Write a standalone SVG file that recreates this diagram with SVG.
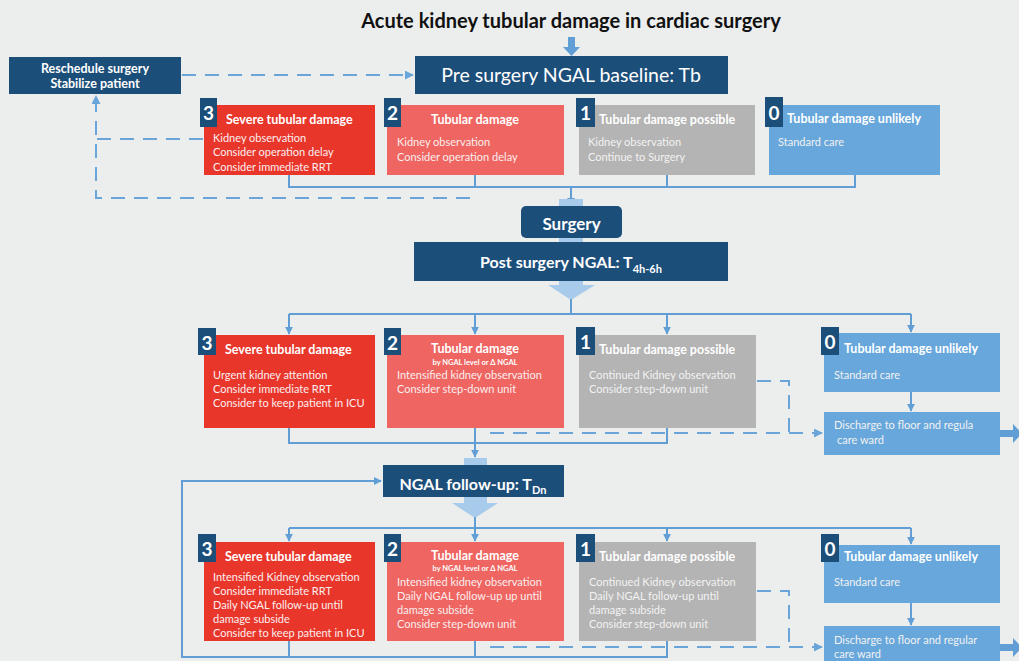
<svg xmlns="http://www.w3.org/2000/svg" width="1019" height="661" viewBox="0 0 1019 661">
<defs>
<style>
text{font-family:Lato,"Open Sans","Liberation Sans",sans-serif;fill:#ffffff}
.ttl{font-size:20px;font-weight:bold;fill:#111111}
.hdr{fill:#1c4e7a}
.hdrt{font-size:19.5px;text-anchor:middle}
.hdrs{font-size:16px;text-anchor:middle}
.badge{fill:#1c4e7a}
.bn{font-size:19px;font-weight:bold;text-anchor:middle}
.bt{font-size:12.5px;font-weight:bold}
.bd{font-size:11px;fill:#fbeeee}
.bdg{font-size:11px;fill:#f2f2f2}
.sub{font-size:7.5px;font-weight:bold;text-anchor:middle}
.r3{fill:#e8362b}
.r2{fill:#ee6561}
.r1{fill:#b4b4b4}
.r0{fill:#67a7dc}
.c{fill:none;stroke:#619ed6;stroke-width:2}
.d{fill:none;stroke:#6aa5d9;stroke-width:2;stroke-dasharray:14 9}
.blk{fill:#a9cbeb}
.ar{fill:#619ed6}
</style>
<marker id="ah" viewBox="0 0 10 10" refX="9" refY="5" markerWidth="8" markerHeight="8" markerUnits="userSpaceOnUse" orient="auto">
<path d="M0,0 L10,5 L0,10 z" fill="#619ed6"/>
</marker>
<marker id="ahd" viewBox="0 0 10 10" refX="9" refY="5" markerWidth="9" markerHeight="9" markerUnits="userSpaceOnUse" orient="auto">
<path d="M0,0 L10,5 L0,10 z" fill="#6aa5d9"/>
</marker>
</defs>
<rect width="1019" height="661" fill="#eceeee"/>
<text class="ttl" x="571" y="28" text-anchor="middle">Acute kidney tubular damage in cardiac surgery</text>

<g id="connectors">
<polygon class="ar" points="568,37 575,37 575,47 580,47 571.5,56 563,47 568,47"/>
<path class="d" d="M182,75 L413,75" marker-end="url(#ahd)"/>
<path class="d" d="M203,139 L96,139"/>
<path class="d" d="M470,198 L96,198 L96,96" marker-end="url(#ahd)"/>
<path class="c" d="M289,175 L289,187 L855,187 L855,175"/>
<path class="c" d="M475,175 L475,187"/>
<path class="c" d="M667,175 L667,187"/>
<path class="c" d="M571,187 L571,205" marker-end="url(#ah)"/>
<rect class="blk" x="559" y="199" width="24" height="44"/>
<polygon class="blk" points="559,281 583,281 583,285 595,285 571,300 548,285 559,285"/>
<path class="c" d="M571,299 L571,314"/>
<path class="c" d="M289,314 L911,314"/>
<path class="c" d="M289,314 L289,334" marker-end="url(#ah)"/>
<path class="c" d="M475,314 L475,334" marker-end="url(#ah)"/>
<path class="c" d="M667,314 L667,334" marker-end="url(#ah)"/>
<path class="c" d="M911,314 L911,332" marker-end="url(#ah)"/>
<path class="c" d="M911,392 L911,411" marker-end="url(#ah)"/>
<path class="c" d="M289,428 L289,443 L667,443 L667,428"/>
<path class="c" d="M475,428 L475,457" marker-end="url(#ah)"/>
<path class="d" d="M757,381 L789,381 L789,433"/>
<path class="d" d="M490,433 L822,433" marker-end="url(#ahd)"/>
<rect class="blk" x="464" y="458" width="23" height="7"/>
<rect class="ar" x="1000" y="430" width="13" height="7"/>
<polygon class="ar" points="1013,424 1022,433.5 1013,443"/>
<rect class="ar" x="1000" y="644" width="13" height="7"/>
<polygon class="ar" points="1013,638 1022,647.5 1013,657"/>
<path class="c" d="M667,641 L667,657 L182,657 L182,481 L381,481" marker-end="url(#ah)"/>
<path class="c" d="M289,641 L289,657"/>
<path class="c" d="M475,641 L475,657"/>
<polygon class="blk" points="464,497 487,497 487,503 498,503 475,518 452,503 464,503"/>
<path class="c" d="M475,517 L475,528"/>
<path class="c" d="M289,528 L911,528"/>
<path class="c" d="M289,528 L289,541" marker-end="url(#ah)"/>
<path class="c" d="M475,528 L475,541" marker-end="url(#ah)"/>
<path class="c" d="M667,528 L667,541" marker-end="url(#ah)"/>
<path class="c" d="M911,528 L911,544" marker-end="url(#ah)"/>
<path class="c" d="M911,603 L911,625" marker-end="url(#ah)"/>
<path class="d" d="M757,591 L789,591 L789,647"/>
<path class="d" d="M490,647 L822,647" marker-end="url(#ahd)"/>
</g>

<g id="reschedule">
<rect class="hdr" x="9" y="57" width="172" height="37"/>
<text x="95" y="73" text-anchor="middle" style="font-size:12.5px;font-weight:bold">Reschedule surgery</text>
<text x="95" y="88" text-anchor="middle" style="font-size:12.5px;font-weight:bold">Stabilize patient</text>
</g>

<g id="pre-surgery">
<rect class="hdr" x="415" y="56" width="313" height="38"/>
<text class="hdrt" x="571" y="82">Pre surgery NGAL baseline: Tb</text>
</g>

<g id="r1-3">
<rect class="r3" x="204" y="105" width="171" height="70"/>
<rect class="badge" x="200" y="98" width="17" height="29"/>
<text class="bn" x="208.5" y="120">3</text>
<text class="bt" x="226" y="124">Severe tubular damage</text>
<text class="bd" x="213" y="142">Kidney observation</text>
<text class="bd" x="213" y="156">Consider operation delay</text>
<text class="bd" x="213" y="171">Consider immediate RRT</text>
</g>
<g id="r1-2">
<rect class="r2" x="387" y="105" width="177" height="70"/>
<rect class="badge" x="384" y="98" width="17" height="29"/>
<text class="bn" x="392.5" y="120">2</text>
<text class="bt" x="475" y="124" text-anchor="middle">Tubular damage</text>
<text class="bd" x="397" y="146">Kidney observation</text>
<text class="bd" x="397" y="161">Consider operation delay</text>
</g>
<g id="r1-1">
<rect class="r1" x="579" y="105" width="176" height="70"/>
<rect class="badge" x="576" y="98" width="19" height="29"/>
<text class="bn" x="585.5" y="120">1</text>
<text class="bt" x="599" y="124">Tubular damage possible</text>
<text class="bdg" x="588" y="146">Kidney observation</text>
<text class="bdg" x="588" y="161">Continue to Surgery</text>
</g>
<g id="r1-0">
<rect class="r0" x="769" y="105" width="171" height="70"/>
<rect class="badge" x="765" y="97" width="18" height="30"/>
<text class="bn" x="774" y="120">0</text>
<text class="bt" x="787" y="123">Tubular damage unlikely</text>
<text class="bdg" x="778" y="146">Standard care</text>
</g>

<g id="surgery">
<rect class="hdr" x="521" y="206" width="101" height="32" rx="5"/>
<text x="571.5" y="230" text-anchor="middle" style="font-size:17px;font-weight:bold">Surgery</text>
</g>

<g id="post-surgery">
<rect class="hdr" x="414" y="242" width="314" height="39"/>
<text class="hdrs" x="571" y="268" style="font-weight:bold">Post surgery NGAL: T<tspan dy="5" style="font-size:11px">4h-6h</tspan></text>
</g>

<g id="r2-3">
<rect class="r3" x="204" y="335" width="171" height="93"/>
<rect class="badge" x="198" y="328" width="18" height="27"/>
<text class="bn" x="207" y="350">3</text>
<text class="bt" x="225" y="354">Severe tubular damage</text>
<text class="bd" x="213" y="379">Urgent kidney attention</text>
<text class="bd" x="213" y="393">Consider immediate RRT</text>
<text class="bd" x="213" y="407">Consider to keep patient in ICU</text>
</g>
<g id="r2-2">
<rect class="r2" x="387" y="335" width="177" height="93"/>
<rect class="badge" x="384" y="328" width="17" height="27"/>
<text class="bn" x="392.5" y="350">2</text>
<text class="bt" x="475" y="353" text-anchor="middle">Tubular damage</text>
<text class="sub" x="475" y="365">by NGAL level or Δ NGAL</text>
<text class="bd" x="397" y="379">Intensified kidney observation</text>
<text class="bd" x="397" y="393">Consider step-down unit</text>
</g>
<g id="r2-1">
<rect class="r1" x="579" y="335" width="177" height="93"/>
<rect class="badge" x="576" y="327" width="19" height="28"/>
<text class="bn" x="585.5" y="349">1</text>
<text class="bt" x="599" y="354">Tubular damage possible</text>
<text class="bdg" x="589" y="379">Continued Kidney observation</text>
<text class="bdg" x="589" y="393">Consider step-down unit</text>
</g>
<g id="r2-0">
<rect class="r0" x="824" y="333" width="176" height="59"/>
<rect class="badge" x="821" y="327" width="18" height="28"/>
<text class="bn" x="830" y="349">0</text>
<text class="bt" x="844" y="353">Tubular damage unlikely</text>
<text class="bdg" x="834" y="379">Standard care</text>
</g>
<g id="r2-discharge">
<rect class="r0" x="824" y="412" width="176" height="43"/>
<text class="bdg" x="834" y="429">Discharge to floor and regula</text>
<text class="bdg" x="837" y="444">care ward</text>
</g>

<g id="follow-up">
<rect class="hdr" x="383" y="465" width="181" height="32"/>
<text class="hdrs" x="473" y="490" style="font-weight:bold">NGAL follow-up: T<tspan dy="4" style="font-size:11px">Dn</tspan></text>
</g>

<g id="r3-3">
<rect class="r3" x="204" y="542" width="171" height="99"/>
<rect class="badge" x="198" y="534" width="18" height="28"/>
<text class="bn" x="207" y="556">3</text>
<text class="bt" x="225" y="561">Severe tubular damage</text>
<text class="bd" x="213" y="581">Intensified Kidney observation</text>
<text class="bd" x="213" y="595">Consider immediate RRT</text>
<text class="bd" x="213" y="609">Daily NGAL follow-up until</text>
<text class="bd" x="213" y="623">damage subside</text>
<text class="bd" x="213" y="637">Consider to keep patient in ICU</text>
</g>
<g id="r3-2">
<rect class="r2" x="387" y="542" width="177" height="99"/>
<rect class="badge" x="384" y="534" width="17" height="28"/>
<text class="bn" x="392.5" y="556">2</text>
<text class="bt" x="475" y="560" text-anchor="middle">Tubular damage</text>
<text class="sub" x="475" y="571">by NGAL level or Δ NGAL</text>
<text class="bd" x="397" y="586">Intensified kidney observation</text>
<text class="bd" x="397" y="600">Daily NGAL follow-up up until</text>
<text class="bd" x="397" y="614">damage subside</text>
<text class="bd" x="397" y="628">Consider step-down unit</text>
</g>
<g id="r3-1">
<rect class="r1" x="579" y="542" width="177" height="99"/>
<rect class="badge" x="576" y="534" width="19" height="28"/>
<text class="bn" x="585.5" y="556">1</text>
<text class="bt" x="599" y="561">Tubular damage possible</text>
<text class="bdg" x="589" y="586">Continued Kidney observation</text>
<text class="bdg" x="589" y="600">Daily NGAL follow-up until</text>
<text class="bdg" x="589" y="614">damage subside</text>
<text class="bdg" x="589" y="628">Consider step-down unit</text>
</g>
<g id="r3-0">
<rect class="r0" x="824" y="545" width="176" height="58"/>
<rect class="badge" x="821" y="534" width="18" height="28"/>
<text class="bn" x="830" y="556">0</text>
<text class="bt" x="844" y="561">Tubular damage unlikely</text>
<text class="bdg" x="834" y="586">Standard care</text>
</g>
<g id="r3-discharge">
<rect class="r0" x="824" y="626" width="176" height="40"/>
<text class="bdg" x="834" y="644">Discharge to floor and regular</text>
<text class="bdg" x="834" y="658">care ward</text>
</g>
</svg>
